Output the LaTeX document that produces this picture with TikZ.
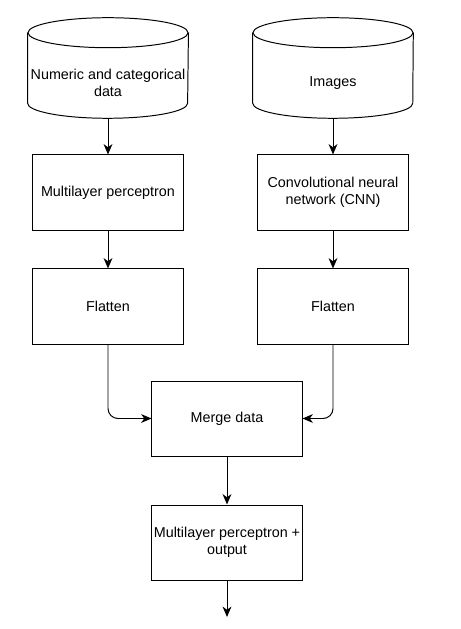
\documentclass[tikz,border=0pt]{standalone}
\usepackage{fontspec}
\setmainfont{Liberation Sans}
\usetikzlibrary{arrows.meta, positioning}

\begin{document}
\begin{tikzpicture}[
  x=0.025cm, y=-0.025cm,
  font=\fontsize{10.2}{12.4}\selectfont,
  >={Stealth[length=2.6mm, width=2.2mm, inset=0.8mm]},
  every node/.style={align=center},
  box/.style={draw, line width=0.7pt, minimum width=3.75cm, minimum height=1.875cm, inner sep=2pt},
  store/.style={minimum width=4cm, minimum height=1.75cm, inner sep=2pt},
  cylline/.style={draw, line width=0.7pt},
  arrow/.style={->, line width=0.7pt},
  bendarrow/.style={arrow, rounded corners=0.25cm},
]
\useasboundingbox (0,0) rectangle (460,629);

%% Row 1: data stores (text sits below the top ellipse)
\node[store] (numdata) at (108, 83) {Numeric and categorical\\data};
\node[store] (images) at (333, 83) {Images};

\foreach \n in {numdata, images} {
  \draw[cylline] ([yshift=0.375cm]\n.north) ellipse[x radius=2cm, y radius=0.375cm];
  \draw[cylline] ([yshift=0.375cm]\n.north west) -- ([yshift=0.375cm]\n.south west)
    arc[start angle=180, end angle=360, x radius=2cm, y radius=0.375cm]
    -- ([yshift=0.375cm]\n.north east);
}

%% Row 2: feature extractors
\node[box] (mlp) at (108, 192.5) {Multilayer perceptron};
\node[box] (cnn) at (333, 192.5) {Convolutional neural\\network (CNN)};

%% Row 3: flatten layers
\node[box] (flatnum) at (108, 306.5) {Flatten};
\node[box] (flatimg) at (333, 306.5) {Flatten};

%% Row 4 and 5: merge and head
\node[box] (merge) at (227, 418.5) {Merge data};
\node[box] (head) at (227, 542.5) {Multilayer perceptron +\\output};
\coordinate (out) at (227, 617);

%% Arrows
\draw[arrow] (numdata.south) -- (mlp.north);
\draw[arrow] (images.south) -- (cnn.north);
\draw[arrow] (mlp.south) -- (flatnum.north);
\draw[arrow] (cnn.south) -- (flatimg.north);
\draw[bendarrow] (flatnum.south) |- (merge.west);
\draw[bendarrow] (flatimg.south) |- (merge.east);
\draw[arrow] (merge.south) -- (head.north);
\draw[arrow] (head.south) -- (out);

\end{tikzpicture}
\end{document}
